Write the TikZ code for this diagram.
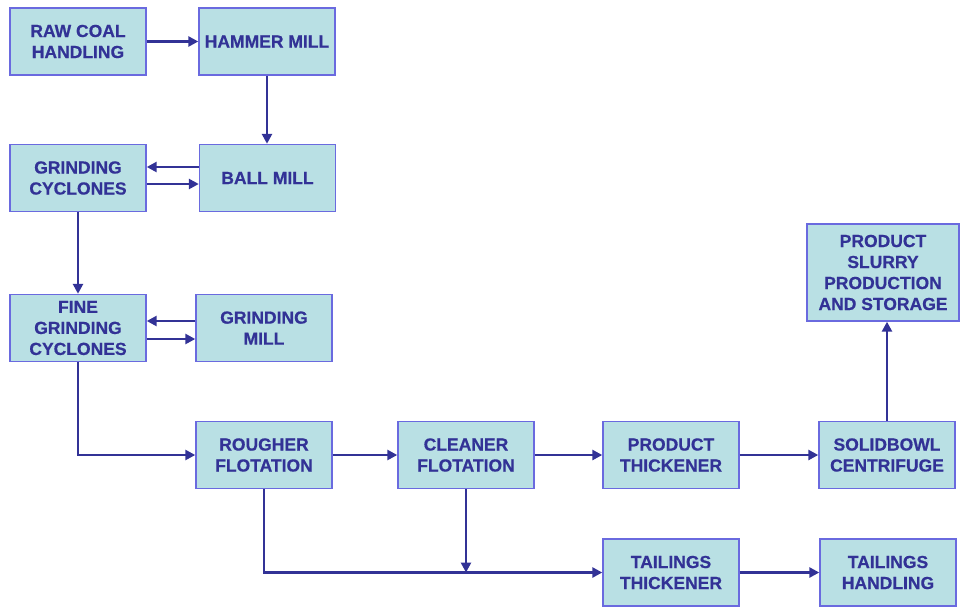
\documentclass[tikz,border=0pt]{standalone}
\usepackage{fontspec}
\setmainfont{Liberation Sans}[BoldFeatures={FakeBold=0.6}]
\usetikzlibrary{arrows.meta}
\definecolor{boxfill}{HTML}{B9E0E4}
\definecolor{boxline}{HTML}{6A6ADF}
\definecolor{ink}{HTML}{323296}
\tikzset{
  procbox/.style={draw=boxline, line width=1.4pt, fill=boxfill, rectangle,
    minimum width=136pt, minimum height=67pt, inner sep=0pt, align=center,
    text=ink, font=\fontsize{17.5}{21}\selectfont\bfseries},
  arr/.style={draw=ink, line width=2.8pt, -{Triangle[length=10pt,width=10pt]}},
  plain/.style={draw=ink, line width=2.8pt}
}
\begin{document}
\begin{tikzpicture}[x=1pt,y=-1pt]
\useasboundingbox (0,0) rectangle (960,606);
\node[procbox] (raw) at (78,41.5) {RAW COAL\\HANDLING};
\node[procbox] (hammer) at (267,41.5) {HAMMER MILL};
\node[procbox] (gcyc) at (78,178) {GRINDING\\CYCLONES};
\node[procbox] (ball) at (267.5,178) {BALL MILL};
\node[procbox] (fine) at (78,328) {FINE\\GRINDING\\CYCLONES};
\node[procbox] (gmill) at (264,328) {GRINDING\\MILL};
\node[procbox] (rough) at (264,455) {ROUGHER\\FLOTATION};
\node[procbox] (clean) at (466,455) {CLEANER\\FLOTATION};
\node[procbox] (pthick) at (671,455) {PRODUCT\\THICKENER};
\node[procbox] (cent) at (887,455) {SOLIDBOWL\\CENTRIFUGE};
\node[procbox, minimum width=152pt, minimum height=97pt] (slurry) at (883,272.5) {PRODUCT\\SLURRY\\PRODUCTION\\AND STORAGE};
\node[procbox] (tthick) at (671,572.5) {TAILINGS\\THICKENER};
\node[procbox] (thand) at (888,572.5) {TAILINGS\\HANDLING};

\draw[arr] (raw) -- (hammer);
\draw[arr] (hammer) -- (hammer |- ball.north);
\draw[arr] ([yshift=11pt]ball.west) -- ([yshift=11pt]gcyc.east);
\draw[arr] ([yshift=-6pt]gcyc.east) -- ([yshift=-6pt]ball.west);
\draw[arr] (gcyc) -- (fine);
\draw[arr] ([yshift=7pt]gmill.west) -- ([yshift=7pt]fine.east);
\draw[arr] ([yshift=-11pt]fine.east) -- ([yshift=-11pt]gmill.west);
\draw[arr] (fine.south) |- (rough.west);
\draw[arr] (rough) -- (clean);
\draw[arr] (clean) -- (pthick);
\draw[arr] (pthick) -- (cent);
\draw[arr] (cent) -- (cent |- slurry.south);
\draw[arr] (rough.south) |- (tthick.west);
\draw[arr] (clean.south) -- (clean.south |- tthick.west);
\draw[arr] (tthick) -- (thand);
\end{tikzpicture}
\end{document}
